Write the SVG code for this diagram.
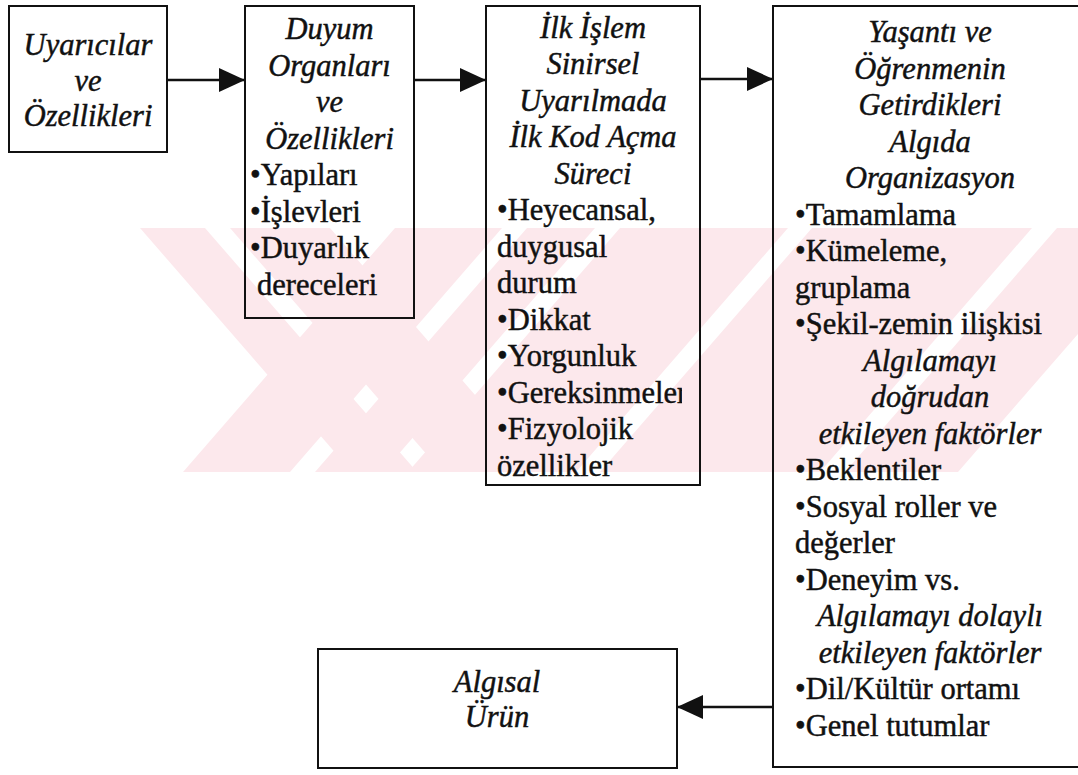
<svg xmlns="http://www.w3.org/2000/svg" width="1078" height="775" viewBox="0 0 1078 775" font-family="Liberation Serif, serif">
  <defs>
    <style>
      .box { fill: none; stroke: #111; stroke-width: 2; }
      .link { stroke: #111; stroke-width: 2.5; fill: none; }
      .h { font-family: 'Liberation Serif', 'Times New Roman', serif; font-style: italic; font-size: 30.5px; text-anchor: middle; fill: #111; stroke: #111; stroke-width: 0.45; }
      .b { font-family: 'Liberation Serif', 'Times New Roman', serif; font-size: 30.5px; fill: #111; stroke: #111; stroke-width: 0.45; }
      .wm { fill: #fce8ec; }
    </style>
    <marker id="head" viewBox="0 0 26 24" refX="26" refY="12" markerWidth="26" markerHeight="24" markerUnits="userSpaceOnUse" orient="auto">
      <path d="M0,0 L26,12 L0,24 Z" fill="#111"/>
    </marker>
    <clipPath id="band">
      <rect x="0" y="228" width="1078" height="244"/>
    </clipPath>
    <clipPath id="box3-inner">
      <rect x="487" y="6" width="195" height="479"/>
    </clipPath>
  </defs>

  <rect width="1078" height="775" fill="#fff"/>

  <!-- light background emblem made of diagonal bars -->
  <g id="emblem" class="wm" clip-path="url(#band)">
    <!-- rising bars -->
    <polygon points="183,472 290,472 502,228 395,228"/>
    <polygon points="315,472 383,472 595,228 527,228"/>
    <polygon points="408,472 576,472 788,228 620,228"/>
    <polygon points="600,472 820,472 1032,228 812,228"/>
    <polygon points="845,472 958,472 1170,228 1057,228"/>
    <!-- falling bars -->
    <polygon points="140,228 205,228 417,472 352,472"/>
    <polygon points="230,228 330,228 542,472 442,472"/>
  </g>

  <g id="connectors">
    <line class="link" x1="167" y1="80" x2="245" y2="80" marker-end="url(#head)"/>
    <line class="link" x1="414" y1="80" x2="486" y2="80" marker-end="url(#head)"/>
    <line class="link" x1="700" y1="79" x2="773" y2="79" marker-end="url(#head)"/>
    <line class="link" x1="773" y1="707" x2="677" y2="707" marker-end="url(#head)"/>
  </g>

  <g id="stimuli">
    <rect class="box" x="9" y="6" width="158" height="146"/>
    <text class="h" x="88" y="55">Uyarıcılar</text>
    <text class="h" x="88" y="90.5">ve</text>
    <text class="h" x="88" y="126">Özellikleri</text>
  </g>

  <g id="sense-organs">
    <rect class="box" x="245" y="6" width="169" height="312"/>
    <text class="h" x="329.5" y="39">Duyum</text>
    <text class="h" x="329.5" y="75.5">Organları</text>
    <text class="h" x="329.5" y="112">ve</text>
    <text class="h" x="329.5" y="148.5">Özellikleri</text>
    <text class="b" x="250" y="185">•Yapıları</text>
    <text class="b" x="250" y="221.5">•İşlevleri</text>
    <text class="b" x="250" y="258">•Duyarlık</text>
    <text class="b" x="257" y="294.5">dereceleri</text>
  </g>

  <g id="first-processing">
    <rect class="box" x="486" y="6" width="214" height="479"/>
    <text class="h" x="593" y="37.5">İlk İşlem</text>
    <text class="h" x="593" y="74">Sinirsel</text>
    <text class="h" x="593" y="110.5">Uyarılmada</text>
    <text class="h" x="593" y="147">İlk Kod Açma</text>
    <text class="h" x="593" y="183.5">Süreci</text>
    <g clip-path="url(#box3-inner)">
      <text class="b" x="497" y="220">•Heyecansal,</text>
      <text class="b" x="497" y="256.5">duygusal</text>
      <text class="b" x="497" y="293">durum</text>
      <text class="b" x="497" y="329.5">•Dikkat</text>
      <text class="b" x="497" y="366">•Yorgunluk</text>
      <text class="b" x="497" y="402.5">•Gereksinmeler</text>
      <text class="b" x="497" y="439">•Fizyolojik</text>
      <text class="b" x="497" y="475.5">özellikler</text>
    </g>
  </g>

  <g id="experience-learning">
    <rect class="box" x="773" y="6" width="314" height="761"/>
    <text class="h" x="930" y="42">Yaşantı ve</text>
    <text class="h" x="930" y="78.5">Öğrenmenin</text>
    <text class="h" x="930" y="115">Getirdikleri</text>
    <text class="h" x="930" y="151.5">Algıda</text>
    <text class="h" x="930" y="188">Organizasyon</text>
    <text class="b" x="795" y="224.5">•Tamamlama</text>
    <text class="b" x="795" y="261">•Kümeleme,</text>
    <text class="b" x="795" y="297.5">gruplama</text>
    <text class="b" x="795" y="334">•Şekil-zemin ilişkisi</text>
    <text class="h" x="930" y="370.5">Algılamayı</text>
    <text class="h" x="930" y="407">doğrudan</text>
    <text class="h" x="930" y="443.5">etkileyen faktörler</text>
    <text class="b" x="795" y="480">•Beklentiler</text>
    <text class="b" x="795" y="516.5">•Sosyal roller ve</text>
    <text class="b" x="795" y="553">değerler</text>
    <text class="b" x="795" y="589.5">•Deneyim vs.</text>
    <text class="h" x="930" y="626">Algılamayı dolaylı</text>
    <text class="h" x="930" y="662.5">etkileyen faktörler</text>
    <text class="b" x="795" y="699">•Dil/Kültür ortamı</text>
    <text class="b" x="795" y="735.5">•Genel tutumlar</text>
  </g>

  <g id="perceptual-product">
    <rect class="box" x="318" y="649" width="359" height="119"/>
    <text class="h" x="497" y="692">Algısal</text>
    <text class="h" x="497" y="727">Ürün</text>
  </g>
</svg>
